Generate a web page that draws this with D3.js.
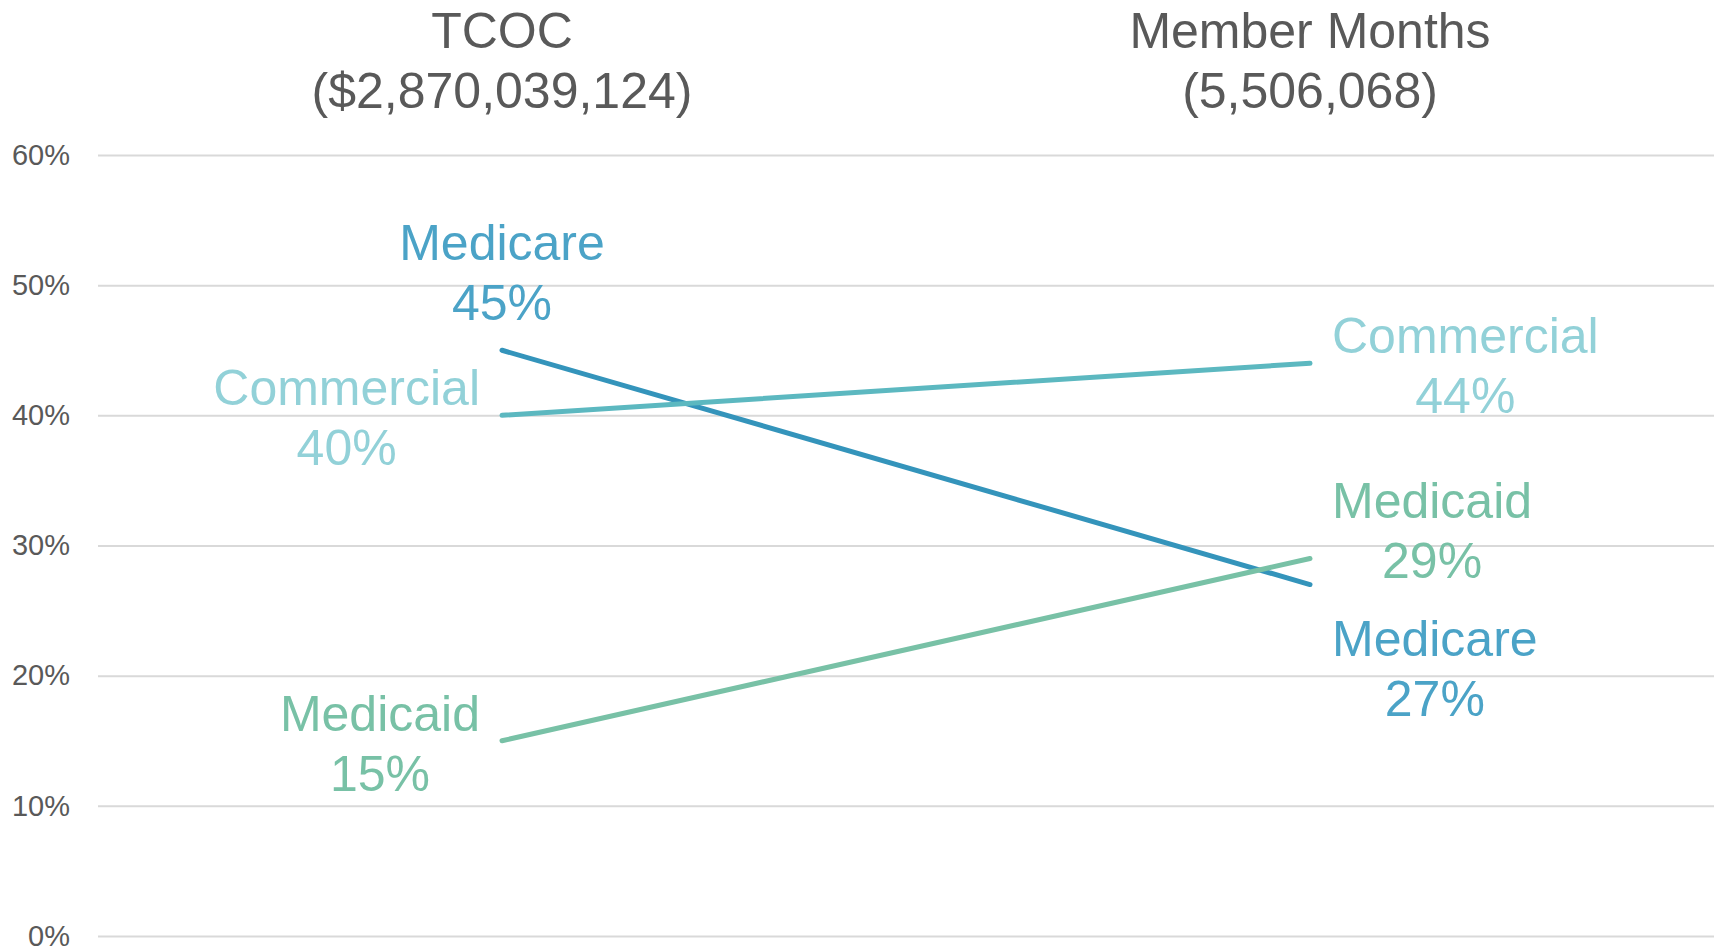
<!DOCTYPE html>
<html>
<head>
<meta charset="utf-8">
<script src="https://cdn.jsdelivr.net/npm/d3@7"></script>
<style>
  html, body { margin: 0; padding: 0; background: #fff; }
  svg { display: block; font-family: "Liberation Sans", Arial, sans-serif; }
</style>
</head>
<body>
<div class="chart"></div>
<script>
// chart values
const categories = ['TCOC', 'Member Months'];
const categoryTotals = ['($2,870,039,124)', '(5,506,068)'];
const seriesNames = ['Medicare', 'Commercial', 'Medicaid'];
const medicare = [45, 27];
const commercial = [40, 44];
const medicaid = [15, 29];
const yTicks = [0, 10, 20, 30, 40, 50, 60];

const lineColors = { Medicare: '#3494bb', Commercial: '#5cb8c0', Medicaid: '#78c1a6' };
const labelColors = { Medicare: '#4ba3c7', Commercial: '#92d1d8', Medicaid: '#78c1a6' };

// where each end label sits, per category (hand placed like the source)
const labelPlacement = {
  'TCOC': { Medicare: 'above', Commercial: 'left', Medicaid: 'left' },
  'Member Months': { Medicare: 'below', Commercial: 'right', Medicaid: 'rightUp' }
};

const series = seriesNames.map((name, i) => ({
  name,
  values: [medicare, commercial, medicaid][i].map((v, j) => ({ cat: categories[j], value: v }))
}));

const width = 1720, height = 951;
const plotLeft = 98, plotRight = 1714, plotTop = 155, plotBottom = 936;

const svg = d3.select('div.chart')
  .append('svg')
    .attr('width', width)
    .attr('height', height);

const x = d3.scaleBand()
  .domain(categories)
  .range([plotLeft, plotRight]);
const cx = c => x(c) + x.bandwidth() / 2;

const y = d3.scaleLinear()
  .domain([0, 60])
  .range([plotBottom, plotTop]);

// gridlines + tick labels
const yAxis = d3.axisLeft(y)
  .tickValues(yTicks)
  .tickSize(-(plotRight - plotLeft))
  .tickPadding(28)
  .tickFormat(d => d + '%');

const axisG = svg.append('g')
  .attr('transform', 'translate(' + plotLeft + ',0)')
  .call(yAxis);
axisG.select('.domain').remove();
axisG.selectAll('.tick line')
  .attr('stroke', '#d9d9d9')
  .attr('stroke-width', 2);
axisG.selectAll('.tick text')
  .attr('fill', '#595959')
  .attr('font-size', 29)
  .attr('font-family', '"Liberation Sans", Arial, sans-serif');

// category titles
const titles = svg.append('g').selectAll('text.cat-title')
  .data(categories)
  .enter()
  .append('text')
    .attr('class', 'cat-title')
    .attr('x', d => cx(d))
    .attr('text-anchor', 'middle')
    .attr('fill', '#595959')
    .attr('font-size', 50);
titles.append('tspan').attr('x', d => cx(d)).attr('y', 48).text(d => d);
titles.append('tspan').attr('x', d => cx(d)).attr('y', 108).text((d, i) => categoryTotals[i]);

// slope lines
const line = d3.line()
  .x(d => cx(d.cat))
  .y(d => y(d.value));

svg.append('g').selectAll('path.slope')
  .data(series)
  .enter()
  .append('path')
    .attr('class', 'slope')
    .attr('d', d => line(d.values))
    .attr('fill', 'none')
    .attr('stroke', d => lineColors[d.name])
    .attr('stroke-width', 5)
    .attr('stroke-linecap', 'round');

// end labels
const labelData = [];
series.forEach(s => s.values.forEach(v => labelData.push({ name: s.name, cat: v.cat, value: v.value })));

const lineGap = 60, gap = 22;
const labels = svg.append('g').selectAll('g.end-label')
  .data(labelData)
  .enter()
  .append('g')
    .attr('class', 'end-label');

labels.each(function(d) {
  const g = d3.select(this);
  const px = cx(d.cat), py = y(d.value);
  const t = g.append('text')
    .attr('text-anchor', 'middle')
    .attr('fill', labelColors[d.name])
    .attr('font-size', 50);
  const l1 = t.append('tspan').text(d.name);
  const l2 = t.append('tspan').text(d.value + '%');
  const w = Math.max(l1.node().getComputedTextLength(), l2.node().getComputedTextLength());
  const place = labelPlacement[d.cat][d.name];
  let bx = px, by = py - 10;
  if (place === 'left') bx = px - gap - w / 2;
  if (place === 'right') bx = px + gap + w / 2;
  if (place === 'rightUp') { bx = px + gap + w / 2; by = py - 41; }
  if (place === 'below') { bx = px + gap + w / 2; by = py + 71; }
  if (place === 'above') { bx = px; by = py - 90; }
  l1.attr('x', bx).attr('y', by);
  l2.attr('x', bx).attr('y', by + lineGap);
});
</script>
</body>
</html>
